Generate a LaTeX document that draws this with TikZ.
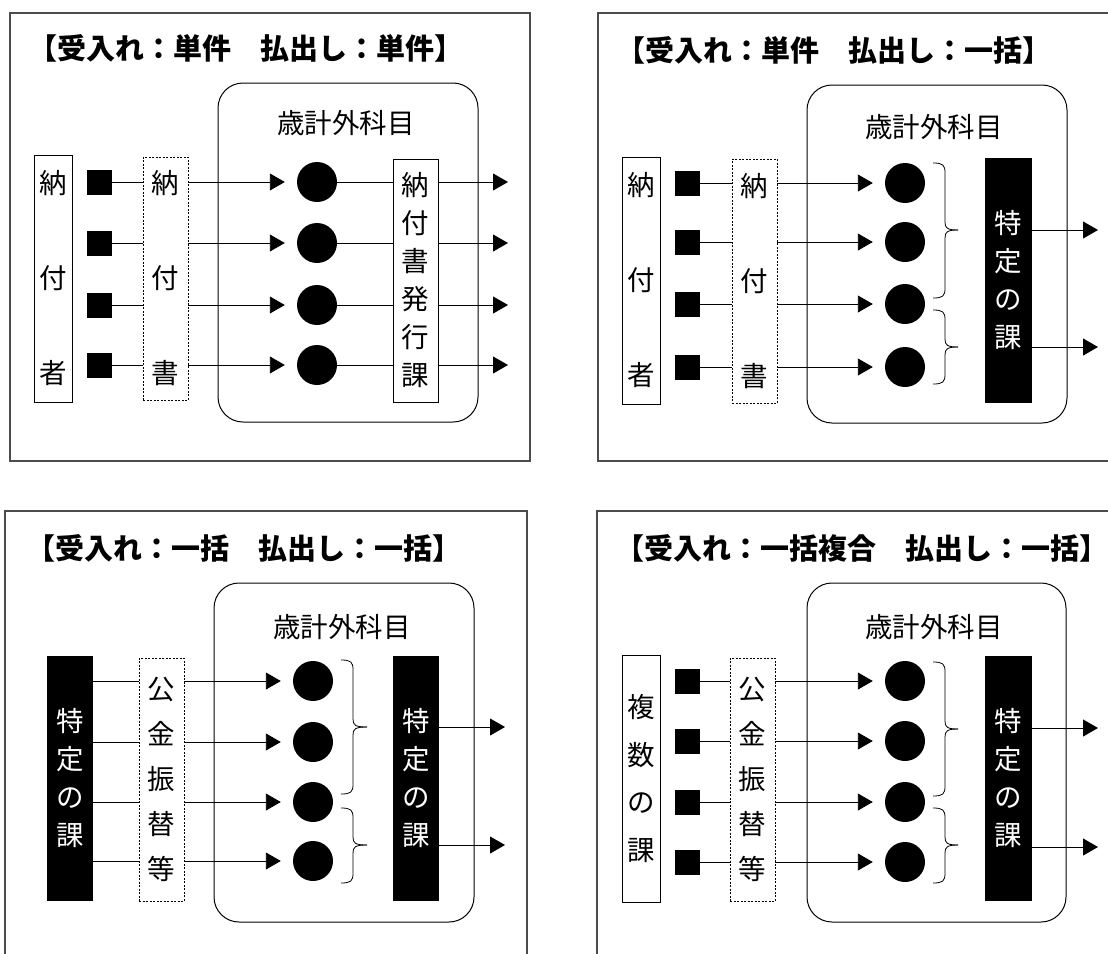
\documentclass[tikz,border=0pt]{standalone}
\usepackage{fontspec}
\newfontfamily\jp{Noto Sans CJK JP}
\usetikzlibrary{arrows.meta}
\newcommand\vt[1]{\jp\fontsize{27.5}{#1}\selectfont}
\newcommand\mybrace[5]{%
  \draw[bline] (#1,#3) .. controls (#1+10,#3) and (#1+12,#3+2) .. (#1+12,#3+10)
     -- (#1+12,#4-8) .. controls (#1+12,#4-2) and (#1+14,#4) .. (#2,#4);
  \draw[bline] (#2,#4) .. controls (#1+14,#4) and (#1+12,#4+2) .. (#1+12,#4+8)
     -- (#1+12,#5-10) .. controls (#1+12,#5-2) and (#1+10,#5) .. (#1,#5);}
\begin{document}
\begin{tikzpicture}[x=1pt,y=-1pt,
  frame/.style={draw=black!70, line width=1.3pt},
  ttl/.style={font=\jp\bfseries\fontsize{29}{34}\selectfont, inner sep=0pt},
  rbox/.style={draw, line width=1pt, rounded corners=25pt, inner sep=0pt},
  lbl/.style={font=\jp\fontsize{27.5}{32}\selectfont, inner sep=0pt},
  vbox/.style={draw, line width=0.9pt, inner sep=0pt, align=center},
  dbox/.style={draw, line width=0.7pt, dash pattern=on 2pt off 1.5pt, inner sep=0pt, align=center},
  bbox/.style={fill=black, text=white, inner sep=0pt, align=center},
  sq/.style={fill=black, minimum size=25pt, inner sep=0pt},
  dot/.style={circle, fill=black, minimum size=40pt, inner sep=0pt},
  ln/.style={line width=0.9pt},
  arr/.style={line width=0.9pt, -{Triangle[length=15pt,width=17pt]}},
  bline/.style={line width=0.8pt}]
\useasboundingbox (0,0) rectangle (1108,953);
\clip (0,0) rectangle (1108,953);

% ===== Panel 1 =====
\draw[frame] (10,13) rectangle (530,461);
\node[ttl] (t1) at (246,48) {【受入れ：単件　払出し：単件】};
\node[rbox, minimum width=260pt, minimum height=339pt] (r1) at (348,252.5) {};
\node[lbl] (k1) at (346,123) {歳計外科目};
\node[vbox, minimum width=38pt, minimum height=247pt, font={\vt{95}}] (p1n) at (53,278.5) {納\\付\\者};
\node[dbox, minimum width=45pt, minimum height=243pt, font={\vt{95}}] (p1d) at (165.5,278.5) {納\\付\\書};
\node[vbox, minimum width=45pt, minimum height=243pt, font={\vt{38}}] (p1b) at (415.5,280.5) {納\\付\\書\\発\\行\\課};
\foreach \y [count=\i] in {182,243,305,365} {
  \node[sq] (p1s\i) at (99.5,\y) {};
  \node[dot] (p1c\i) at (317,\y) {};
  \coordinate (p1o\i) at (508,\y);
  \draw[ln] (p1s\i.east) -- (p1d.west |- p1s\i);
  \draw[arr, shorten >=12pt] (p1d.east |- p1s\i) -- (p1c\i.west);
  \draw[ln] (p1c\i.east) -- (p1b.west |- p1c\i);
  \draw[arr] (p1b.east |- p1c\i) -- (p1o\i);
}

% ===== Panel 2 =====
\draw[frame] (598,13) rectangle (1130,461);
\node[ttl] (t2) at (834,50) {【受入れ：単件　払出し：一括】};
\node[rbox, minimum width=260pt, minimum height=338pt] (r2) at (937,254) {};
\node[lbl] (k2) at (934,127) {歳計外科目};
\node[vbox, minimum width=38pt, minimum height=247pt, font={\vt{95}}] (p2n) at (641,280.5) {納\\付\\者};
\node[dbox, minimum width=45pt, minimum height=244pt, font={\vt{95}}] (p2d) at (754.5,281) {納\\付\\書};
\node[bbox, minimum width=47pt, minimum height=245pt, font={\vt{38}}] (p2b) at (1008.5,280.5) {特\\定\\の\\課};
\foreach \y [count=\i] in {183,242,304,367} {
  \node[sq] (p2s\i) at (687.5,\y) {};
  \node[dot] (p2c\i) at (905,\y) {};
  \draw[ln] (p2s\i.east) -- (p2d.west |- p2s\i);
  \draw[arr, shorten >=12pt] (p2d.east |- p2s\i) -- (p2c\i.west);
}
\mybrace{933}{958}{163}{230}{298}
\mybrace{933}{958}{310}{347}{384}
\coordinate (p2o1) at (1098,230);
\coordinate (p2o2) at (1098,347);
\draw[arr] (p2b.east |- p2o1) -- (p2o1);
\draw[arr] (p2b.east |- p2o2) -- (p2o2);

% ===== Panel 3 =====
\draw[frame] (5,511) rectangle (527,980);
\node[ttl] (t3) at (244,548) {【受入れ：一括　払出し：一括】};
\node[rbox, minimum width=260pt, minimum height=339pt] (r3) at (344,752.5) {};
\node[lbl] (k3) at (342,627) {歳計外科目};
\node[bbox, minimum width=46pt, minimum height=245pt, font={\vt{38}}] (p3l) at (70,778.5) {特\\定\\の\\課};
\node[dbox, minimum width=45pt, minimum height=243pt, font={\vt{45}}] (p3d) at (161.5,779.5) {公\\金\\振\\替\\等};
\node[bbox, minimum width=46pt, minimum height=245pt, font={\vt{38}}] (p3b) at (416,778.5) {特\\定\\の\\課};
\foreach \y [count=\i] in {681,742,802,861} {
  \node[dot] (p3c\i) at (313,\y) {};
  \draw[ln] (p3l.east |- p3c\i) -- (p3d.west |- p3c\i);
  \draw[arr, shorten >=12pt] (p3d.east |- p3c\i) -- (p3c\i.west);
}
\mybrace{341}{367}{660}{727}{794}
\mybrace{341}{367}{808}{845}{883}
\coordinate (p3o1) at (505,727);
\coordinate (p3o2) at (505,845);
\draw[arr] (p3b.east |- p3o1) -- (p3o1);
\draw[arr] (p3b.east |- p3o2) -- (p3o2);

% ===== Panel 4 =====
\draw[frame] (597,511) rectangle (1130,980);
\node[ttl] (t4) at (861.5,548) {【受入れ：一括複合　払出し：一括】};
\node[rbox, minimum width=259pt, minimum height=339pt] (r4) at (936.5,752.5) {};
\node[lbl] (k4) at (934,627) {歳計外科目};
\node[vbox, minimum width=38pt, minimum height=247pt, font={\vt{47.7}}] (p4n) at (641,778.5) {複\\数\\の\\課};
\node[dbox, minimum width=45pt, minimum height=243pt, font={\vt{45}}] (p4d) at (752.5,779.5) {公\\金\\振\\替\\等};
\node[bbox, minimum width=47pt, minimum height=245pt, font={\vt{38}}] (p4b) at (1008.5,778.5) {特\\定\\の\\課};
\foreach \y [count=\i] in {681,741,802,862} {
  \node[sq] (p4s\i) at (687.5,\y) {};
  \node[dot] (p4c\i) at (905,\y) {};
  \draw[ln] (p4s\i.east) -- (p4d.west |- p4s\i);
  \draw[arr, shorten >=12pt] (p4d.east |- p4s\i) -- (p4c\i.west);
}
\mybrace{933}{958}{662}{729}{796}
\mybrace{933}{958}{808}{845}{883}
\coordinate (p4o1) at (1098,728);
\coordinate (p4o2) at (1098,847);
\draw[arr] (p4b.east |- p4o1) -- (p4o1);
\draw[arr] (p4b.east |- p4o2) -- (p4o2);
\end{tikzpicture}
\end{document}
